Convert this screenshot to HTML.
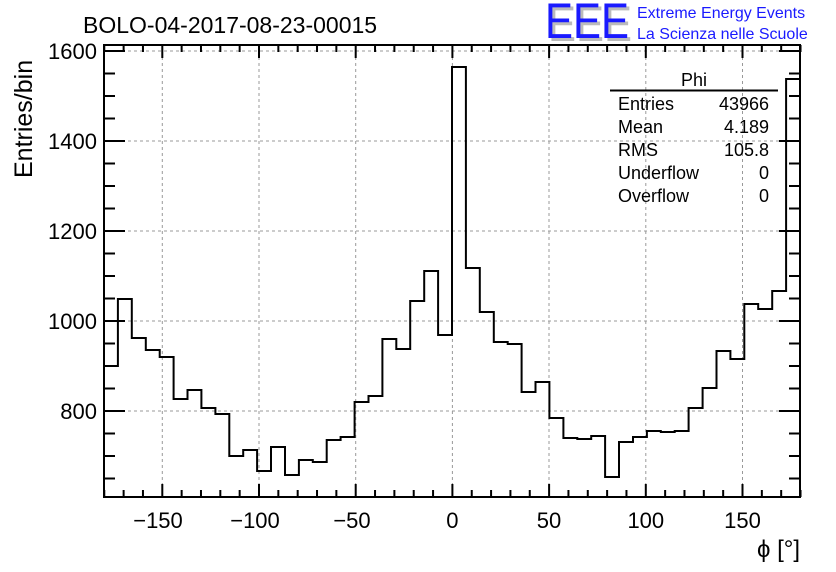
<!DOCTYPE html>
<html><head><style>body{margin:0;background:#fff}svg{display:block}</style></head><body>
<svg id="s" width="836" height="572" xmlns="http://www.w3.org/2000/svg" font-family="Liberation Sans, sans-serif">
<rect width="836" height="572" fill="#fff"/>
<g stroke="#999" stroke-width="1" stroke-dasharray="3,3">
<line x1="162.3" y1="45" x2="162.3" y2="497"/><line x1="259" y1="45" x2="259" y2="497"/><line x1="355.7" y1="45" x2="355.7" y2="497"/><line x1="452.4" y1="45" x2="452.4" y2="497"/><line x1="549" y1="45" x2="549" y2="497"/><line x1="645.8" y1="45" x2="645.8" y2="497"/><line x1="742.5" y1="45" x2="742.5" y2="497"/>
<line x1="104" y1="411" x2="800" y2="411"/><line x1="104" y1="321" x2="800" y2="321"/><line x1="104" y1="231" x2="800" y2="231"/><line x1="104" y1="141" x2="800" y2="141"/><line x1="104" y1="51" x2="800" y2="51"/>
</g>
<g id="ticks" stroke="#000" stroke-width="2"></g>
<path id="h" fill="none" stroke="#000" stroke-width="2"/>
<rect x="104" y="45" width="696" height="452" fill="none" stroke="#000" stroke-width="2"/>
<g font-size="22" text-anchor="end">
<text x="97" y="419">800</text><text x="97" y="329">1000</text><text x="97" y="239">1200</text><text x="97" y="149">1400</text><text x="97" y="59">1600</text>
</g>
<g font-size="22" text-anchor="middle">
<text x="158" y="528">−150</text><text x="255" y="528">−100</text><text x="352" y="528">−50</text><text x="452.4" y="528">0</text><text x="549" y="528">50</text><text x="645.8" y="528">100</text><text x="742.5" y="528">150</text>
</g>
<text x="800" y="557" font-size="24" text-anchor="end">ϕ [°]</text>
<text transform="translate(32,178) rotate(-90)" font-size="25">Entries/bin</text>
<text x="83" y="33" font-size="23">BOLO-04-2017-08-23-00015</text>
<text x="548" y="41" font-size="50" fill="#bbb" textLength="84" lengthAdjust="spacingAndGlyphs">EEE</text>
<text x="545" y="38" font-size="50" fill="#1a1aff" textLength="84" lengthAdjust="spacingAndGlyphs">EEE</text>
<text x="637" y="18" font-size="16" fill="#1a1aff">Extreme Energy Events</text>
<text x="637" y="39" font-size="16" fill="#1a1aff">La Scienza nelle Scuole</text>
<line x1="610" y1="90.5" x2="778" y2="90.5" stroke="#000" stroke-width="2"/>
<text x="694" y="86" font-size="18" text-anchor="middle">Phi</text>
<g font-size="18">
<text x="618" y="110">Entries</text><text x="618" y="133">Mean</text><text x="618" y="156">RMS</text><text x="618" y="179">Underflow</text><text x="618" y="202">Overflow</text>
</g>
<g font-size="18" text-anchor="end">
<text x="769" y="110">43966</text><text x="769" y="133">4.189</text><text x="769" y="156">105.8</text><text x="769" y="179">0</text><text x="769" y="202">0</text>
</g>
<script>
var ys=[366,299,338,350,357,399,390,408,414,456,450,471,447,475,460,462,440,437,402,396,339,349,301,271,335,67,268,312,342,344,392,382,418,438,439,436,477,442,437,431,432,431,408,388,351,359,304,309,291,79];
var w=696/50,x0=104,d="M"+x0+",497";
for(var i=0;i<50;i++){var a=x0+i*w,b=a+w;d+=" L"+a.toFixed(1)+","+ys[i]+" L"+b.toFixed(1)+","+ys[i];}
d+=" L800,497";
document.getElementById("h").setAttribute("d",d);
var g=document.getElementById("ticks"),NS="http://www.w3.org/2000/svg";
function ln(x1,y1,x2,y2){var l=document.createElementNS(NS,"line");l.setAttribute("x1",x1);l.setAttribute("y1",y1);l.setAttribute("x2",x2);l.setAttribute("y2",y2);g.appendChild(l);}
for(var v=-180;v<=180;v+=10){var x=452.4+v*1.934;var L=(v%50==0)?13:7;ln(x,497,x,497-L);ln(x,45,x,45+L);}
for(var v=650;v<=1600;v+=50){var y=51+(1600-v)*0.45;var L=(v%200==0)?21:11;ln(104,y,104+L,y);ln(800,y,800-L,y);}
</script>
</svg>
</body></html>
